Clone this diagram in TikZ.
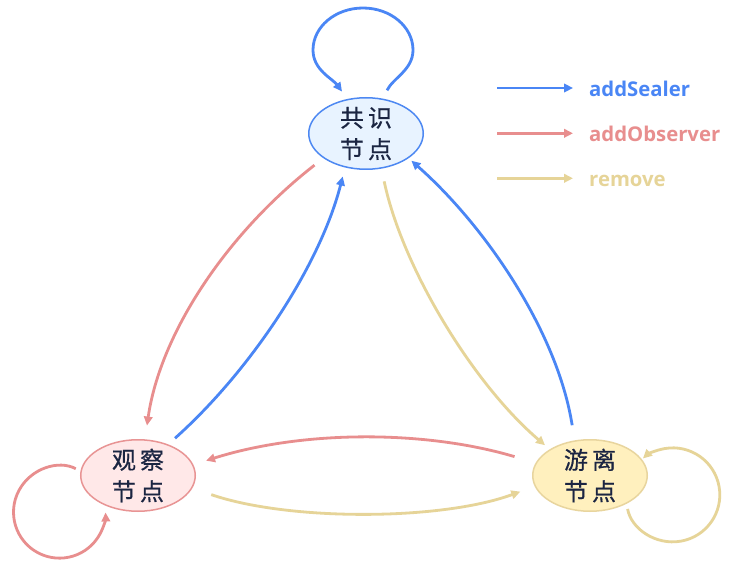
\documentclass[tikz,border=0pt]{standalone}
\usepackage{fontspec}
\usetikzlibrary{arrows.meta,shapes.geometric}
\newfontfamily\cjkfont{Noto Sans CJK SC}[LetterSpace=17,FakeBold=0.6]
\newfontfamily\legfont{Open Sans}
\definecolor{cblue}{HTML}{4A86F5}
\definecolor{cpink}{HTML}{E88E8E}
\definecolor{ctan}{HTML}{E6D498}
\definecolor{ctext}{HTML}{1B2542}
\definecolor{fblue}{HTML}{E8F3FF}
\definecolor{fpink}{HTML}{FFE8E8}
\definecolor{ftan}{HTML}{FFF0BE}
\definecolor{bblue}{HTML}{4D88F2}
\definecolor{bpink}{HTML}{E89494}
\definecolor{btan}{HTML}{E8D59E}
\tikzset{
  conn/.style={line width=2.8pt, -{Triangle[length=9pt,width=8.5pt]}},
  bluec/.style={conn, draw=cblue, fill=none},
  pinkc/.style={conn, draw=cpink, fill=none},
  tanc/.style={conn, draw=ctan, fill=none},
  state/.style={ellipse, line width=1.5pt, minimum width=114.5pt, minimum height=71.5pt, inner sep=0pt, outer sep=0pt},
  nodetext/.style={font=\cjkfont\fontsize{24}{31.5}\selectfont, align=center, text=ctext, inner sep=0pt},
  legtext/.style={font=\legfont\bfseries\fontsize{20.3}{24}\selectfont, inner sep=0pt, text height=17pt, text depth=0pt, anchor=west}
}
\begin{document}
\begin{tikzpicture}[x=1pt,y=-1pt]
\useasboundingbox (0,0) rectangle (734,575);
\fill[white] (0,0) rectangle (734,575);

% states
\node[state, draw=bblue, fill=fblue, label={[nodetext]center:{共识\\节点}}] (T) at (366,133.5) {};
\node[state, draw=bpink, fill=fpink, label={[nodetext]center:{观察\\节点}}] (L) at (138,475.5) {};
\node[state, draw=btan, fill=ftan, label={[nodetext]center:{游离\\节点}}] (R) at (590,475.5) {};

% connectors between states
\draw[pinkc, shorten <=12pt, shorten >=14.6pt] (T.210) .. controls (225,235) and (160,335) .. (L.79);
\draw[bluec, shorten <=10pt, shorten >=10pt] (L.46.5) .. controls (250.5,370.8) and (320.1,265.5) .. (T.238.8);
\draw[tanc, shorten <=13.7pt, shorten >=7pt] (T.294.6) .. controls (402.3,267.5) and (473,383.8) .. (R.147.4);
\draw[bluec, shorten <=16pt, shorten >=4.5pt] (R.114.7) .. controls (557.2,330.6) and (484.1,224.8) .. (T.330.1);
\draw[pinkc, shorten <=22.7pt, shorten >=14pt] (R.167.5) .. controls (425,430) and (303,430) .. (L.11.5);
\draw[tanc, shorten <=20.7pt, shorten >=16pt] (L.347.2) .. controls (288,521) and (440,521) .. (R.191.2);

% self loops
\draw[bluec, shorten <=10pt, shorten >=10pt] (T.64) .. controls (393,78) and (413,70) .. (413,50)
  .. controls (413,26.8) and (390.6,8) .. (363,8)
  .. controls (335.4,8) and (313,26.8) .. (313,50)
  .. controls (313,70) and (332.4,78.5) .. (T.118);
\draw[pinkc, shorten <=6pt, shorten >=2pt] (L.176) arc[start angle=-62, end angle=-362, radius=46];
\draw[tanc, shorten <=6pt, shorten >=3pt] (R.323) arc[start angle=-190, end angle=-493, radius=47];

% legend
\coordinate (ka) at (497,88);
\coordinate (kb) at (497,133.3);
\coordinate (kc) at (497,178.3);
\node[legtext, text=cblue] (ks) at (589,88) {addSealer};
\node[legtext, text=cpink] (ko) at (589,133.3) {addObserver};
\node[legtext, text=ctan] (kr) at (589,178.3) {remove};
\draw[bluec, shorten >=16pt] (ka) -- (ks.west);
\draw[pinkc, shorten >=16pt] (kb) -- (ko.west);
\draw[tanc, shorten >=16pt] (kc) -- (kr.west);
\end{tikzpicture}
\end{document}
